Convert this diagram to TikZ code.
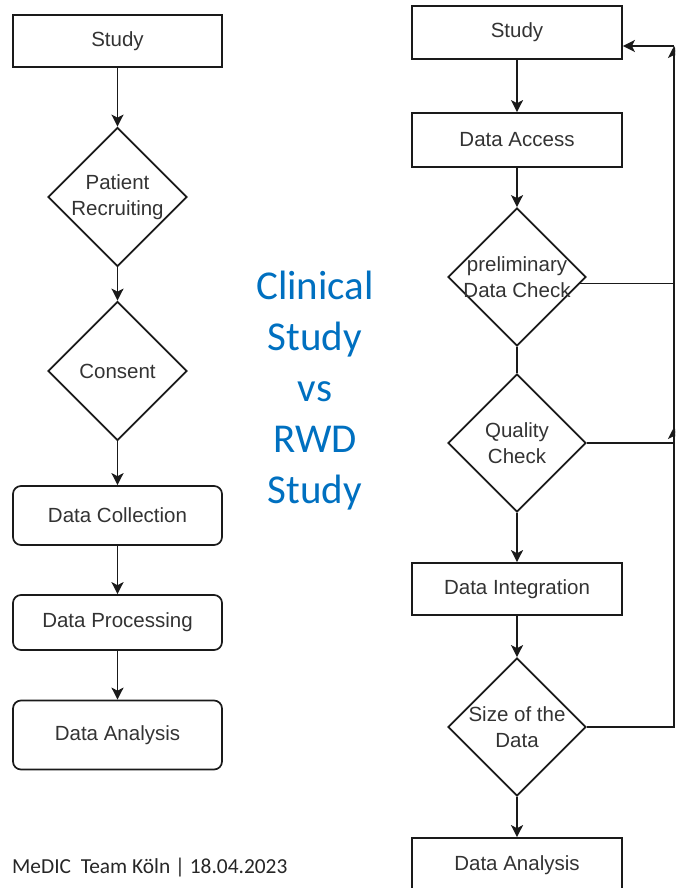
\documentclass[tikz,border=0pt]{standalone}
\usepackage{fontspec}
\setmainfont{Liberation Sans}
\newfontfamily\titlefont{Carlito}
\usetikzlibrary{shapes.geometric,arrows.meta}
\definecolor{labelgray}{HTML}{333333}
\definecolor{linegray}{HTML}{1A1A1A}
\definecolor{titleblue}{HTML}{0070C0}
\definecolor{footgray}{HTML}{262626}
\begin{document}
\begin{tikzpicture}[x=1pt,y=-1pt,
  base/.style={draw=linegray, line width=1.7pt, inner sep=0pt, text=labelgray,
    font=\fontsize{20.5}{26}\selectfont, align=center},
  stepbox/.style={base, minimum width=209pt},
  roundbox/.style={stepbox, rounded corners=8pt},
  decision/.style={base, diamond, inner sep=-12pt, minimum width=139pt, minimum height=139pt},
  arr/.style={draw=linegray, line width=1.7pt, -{Stealth[length=12pt,width=12pt,inset=3pt]}},
  plain/.style={draw=linegray, line width=1.7pt}
]
\useasboundingbox (0,0) rectangle (675,888);
\clip (0,0) rectangle (675,888);

% ---- clinical study flow ----
\node[stepbox, minimum height=52pt]  (lstudy) at (117.5,41)    {Study};
\node[decision]                      (lpat)   at (117.5,197)   {Patient\\Recruiting};
\node[decision]                      (lcons)  at (117.5,371)   {Consent};
\node[roundbox, minimum height=59pt] (lcoll)  at (117.5,515.5) {Data Collection};
\node[roundbox, minimum height=55pt] (lproc)  at (117.5,622.5) {Data Processing};
\node[roundbox, minimum height=69pt] (lana)   at (117.5,735)   {Data Analysis};

\draw[arr] (lstudy) -- (lpat);
\draw[arr] (lpat) -- (lcons);
\draw[arr] (lcons) -- (lcoll);
\draw[arr] (lcoll) -- (lproc);
\draw[arr] (lproc) -- (lana);

% ---- RWD study flow ----
\node[stepbox, minimum width=210pt, minimum height=53pt] (rstudy) at (517,32.5) {Study};
\node[stepbox, minimum width=210pt, minimum height=54pt] (racc)   at (517,140)  {Data Access};
\node[decision, minimum width=138pt, minimum height=138pt] (rpre)  at (517,277) {preliminary\\Data Check};
\node[decision, minimum width=138pt, minimum height=138pt] (rqual) at (517,443) {Quality\\Check};
\node[stepbox, minimum width=210pt, minimum height=52pt] (rint)   at (517,589)  {Data Integration};
\node[decision, minimum width=138pt, minimum height=138pt] (rsize) at (517,727) {Size of the\\Data};
\node[stepbox, minimum width=210pt, minimum height=54pt] (rana)   at (517,865)  {Data Analysis};

\draw[arr] (rstudy) -- (racc);
\draw[arr] (racc) -- (rpre);
\draw[plain] (rpre) -- (rqual);
\draw[arr] (rqual) -- (rint);
\draw[arr] (rint) -- (rsize);
\draw[arr] (rsize) -- (rana);

% feedback rail on the right
\coordinate (railtop) at (674,46);
\coordinate (railmid) at (674,427);
\draw[plain] (rpre.-6) -- (rpre.-6 -| railtop);
\draw[arr] (rqual.east) -| (railtop);
\draw[arr] (railtop) -- ([yshift=-13.5pt]rstudy.east);
\draw[arr] (rsize.east) -| (railmid);

% ---- title and footer ----
\node[text=titleblue, align=center, font=\titlefont\fontsize{41}{51}\selectfont]
  (title) at (315,391) {Clinical\\Study\\vs\\RWD\\Study};
\node[anchor=base west, inner sep=0pt, text=footgray, font=\titlefont\fontsize{21.4}{25}\selectfont]
  (foot) at (12,873) {MeDIC\ \ Team Köln | 18.04.2023};
\end{tikzpicture}
\end{document}
